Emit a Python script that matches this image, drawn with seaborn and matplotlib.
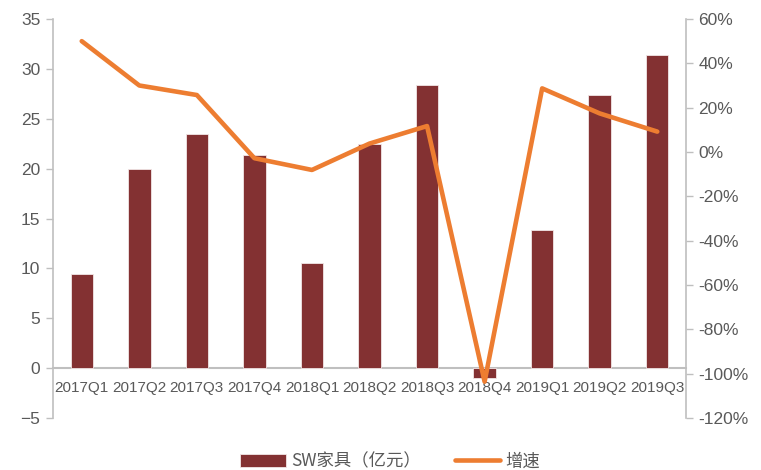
import matplotlib
matplotlib.use("Agg")
import matplotlib.pyplot as plt
import seaborn as sns
import pandas as pd
from matplotlib.ticker import FuncFormatter

quarters = ["2017Q1", "2017Q2", "2017Q3", "2017Q4", "2018Q1", "2018Q2",
            "2018Q3", "2018Q4", "2019Q1", "2019Q2", "2019Q3"]
revenue = [9.4, 20.0, 23.5, 21.4, 10.5, 22.5, 28.4, -1.0, 13.8, 27.4, 31.4]
growth = [50.0, 30.0, 25.7, -2.8, -8.1, 3.8, 11.7, -103.6, 28.7, 17.4, 9.2]

bar_label = "SW家具（亿元）"
line_label = "增速"

df = pd.DataFrame({"quarter": quarters, "revenue": revenue,
                   "growth": growth, "pos": range(len(quarters))})

sns.set_theme(style="white")
plt.rcParams["font.family"] = ["Liberation Sans", "Noto Sans CJK SC", "DejaVu Sans"]

bar_color = "#833132"
line_color = "#ED7D31"
axis_gray = "#BFBFBF"
text_gray = "#595959"

fig = plt.figure(figsize=(7.61, 4.70), dpi=100)
ax = fig.add_axes([0.0696, 0.1106, 0.8319, 0.849])

sns.barplot(data=df, x="quarter", y="revenue", color=bar_color, width=0.39,
            edgecolor="#F2E6E6", linewidth=0.6, saturation=1, ax=ax,
            label=bar_label)
if ax.get_legend() is not None:
    ax.get_legend().remove()
ax.set_xlim(-0.5, len(quarters) - 0.5)
ax.set_ylim(-5, 35)
ax.set_yticks(range(-5, 36, 5))
ax.set_xlabel("")
ax.set_ylabel("")

ax2 = ax.twinx()
sns.lineplot(data=df, x="pos", y="growth", color=line_color, linewidth=3.3,
             sort=False, ax=ax2, label=line_label, legend=False,
             solid_capstyle="round", solid_joinstyle="round")
ax2.set_ylim(-120, 60)
ax2.set_yticks(range(-120, 61, 20))
ax2.yaxis.set_major_formatter(FuncFormatter(lambda v, _: f"{v:.0f}%"))
ax2.set_ylabel("")
ax2.set_xlabel("")
ax2.set_xlim(-0.5, len(quarters) - 0.5)

# category axis runs along the zero line
ax.spines["bottom"].set_position(("data", 0))
ax.spines["bottom"].set_color(axis_gray)
ax.spines["bottom"].set_linewidth(1.5)
ax.spines["bottom"].set_zorder(0.5)
ax.spines["top"].set_visible(False)
ax.spines["right"].set_visible(False)
ax.spines["left"].set_color(axis_gray)
ax.spines["left"].set_linewidth(1.2)
for s in ("top", "bottom", "left"):
    ax2.spines[s].set_visible(False)
ax2.spines["right"].set_color(axis_gray)
ax2.spines["right"].set_linewidth(1.2)

ax.tick_params(axis="y", which="major", left=True, length=5, width=1.0,
               color=axis_gray, labelsize=12.5, labelcolor=text_gray, pad=4)
ax2.tick_params(axis="y", which="major", right=True, length=5, width=1.0,
                color=axis_gray, labelsize=12.5, labelcolor=text_gray, pad=4)
ax.tick_params(axis="x", bottom=False, labelsize=11, labelcolor=text_gray, pad=3)

h1, l1 = ax.get_legend_handles_labels()
h2, l2 = ax2.get_legend_handles_labels()
leg = fig.legend(h1 + h2, l1 + l2, loc="center", bbox_to_anchor=(0.513, 0.018),
                 ncol=2, frameon=False, handlelength=2.6,
                 handleheight=0.75, columnspacing=2.0, handletextpad=0.3,
                 prop={"family": ["Noto Sans CJK SC", "DejaVu Sans"], "size": 12.5})
for t in leg.get_texts():
    t.set_color(text_gray)

fig.savefig("out.png", dpi=100)
